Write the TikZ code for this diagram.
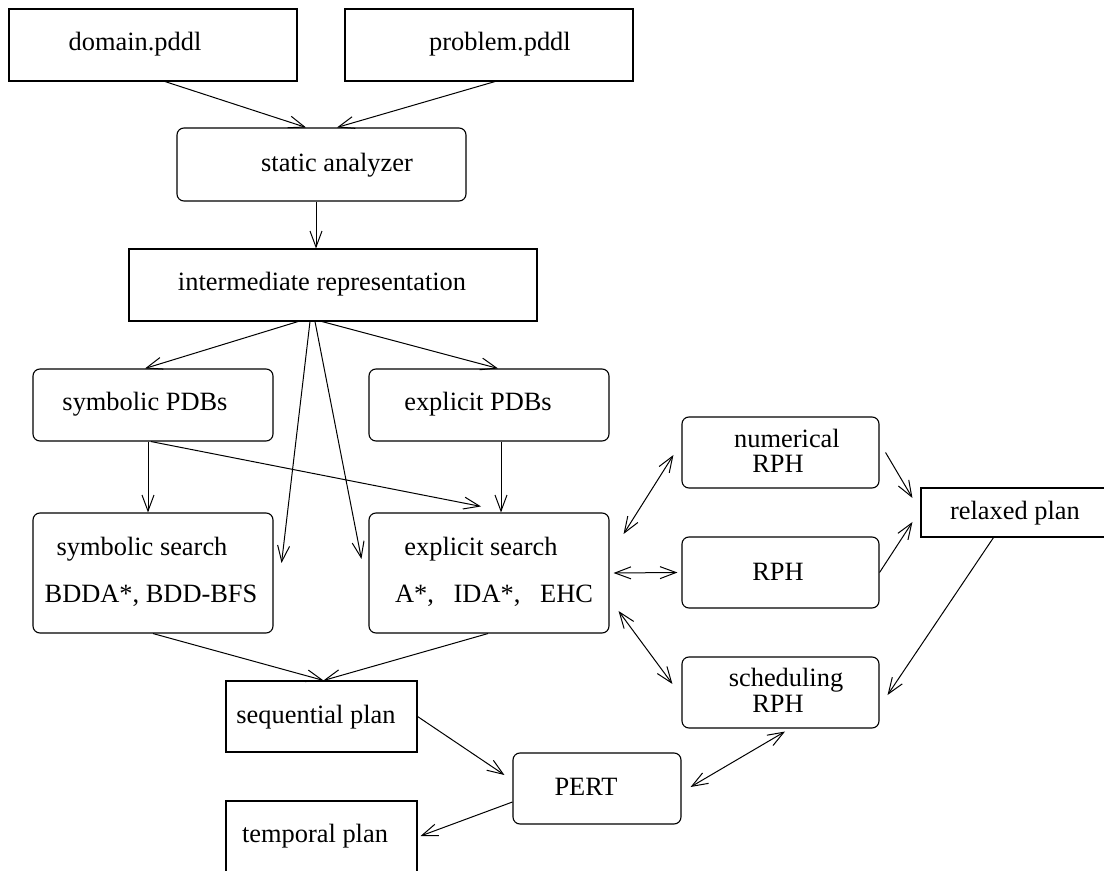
\documentclass[tikz,border=0pt]{standalone}
\usepackage{fontspec}
\setmainfont{Liberation Serif}
\usetikzlibrary{arrows.meta}

\begin{document}
\begin{tikzpicture}[x=0.5pt, y=-0.5pt,
    font=\fontsize{13.2}{15}\selectfont,
    line width=0.5pt,
    box/.style={draw, line width=0.55pt, inner sep=0pt},
    rbox/.style={box, rounded corners=3.5pt},
    lbl/.style={inner sep=0pt},
    tip/.style={-{Straight Barb[length=8pt,width=6pt]}},
    tips/.style={{Straight Barb[length=8pt,width=6pt]}-{Straight Barb[length=8pt,width=6pt]}}]
    \useasboundingbox (0,0) rectangle (1104,871);

    % boxes
    \node[box, minimum width=144pt, minimum height=36pt] (dom) at (153,45) {};
    \node[box, minimum width=144pt, minimum height=36pt] (prob) at (489,45) {};
    \node[rbox, minimum width=144.5pt, minimum height=36.5pt] (stat) at (321.5,164.5) {};
    \node[box, minimum width=204pt, minimum height=36pt] (inter) at (333,285) {};
    \node[rbox, minimum width=120pt, minimum height=36pt] (sympdb) at (153,405) {};
    \node[rbox, minimum width=120pt, minimum height=36pt] (exppdb) at (489,405) {};
    \node[rbox, minimum width=120pt, minimum height=60pt] (symsrch) at (153,573) {};
    \node[rbox, minimum width=120pt, minimum height=60pt] (expsrch) at (489,573) {};
    \node[rbox, minimum width=98.5pt, minimum height=35.5pt] (numrph) at (780.5,452.5) {};
    \node[rbox, minimum width=98.5pt, minimum height=35.5pt] (rph) at (780.5,572.5) {};
    \node[rbox, minimum width=98.5pt, minimum height=35.5pt] (schedrph) at (780.5,692.5) {};
    \node[box, minimum width=94pt, minimum height=24.5pt] (relax) at (1015,512.5) {};
    \node[box, minimum width=95.5pt, minimum height=35.5pt] (seq) at (321.5,716.5) {};
    \node[box, minimum width=95.5pt, minimum height=36pt] (temp) at (321.5,837) {};
    \node[rbox, minimum width=84pt, minimum height=35.5pt] (pert) at (597,788.5) {};

    % labels
    \node[lbl] (doml) at (135,44) {domain.pddl};
    \node[lbl] (probl) at (500,44) {problem.pddl};
    \node[lbl] (statl) at (337,165) {static analyzer};
    \node[lbl] (interl) at (322,284) {intermediate representation};
    \node[lbl] (sympdbl) at (145,404) {symbolic PDBs};
    \node[lbl] (exppdbl) at (478,404) {explicit PDBs};
    \node[lbl] (symsrchl) at (142,549) {symbolic search};
    \node[lbl] (symalgl) at (151,596) {BDDA*, BDD-BFS};
    \node[lbl] (expsrchl) at (481,549) {explicit search};
    \node[lbl] (expalgl) at (494,596) {A*,\ \ \ IDA*,\ \ \ EHC};
    \node[lbl] (numl) at (787,438) {numerical};
    \node[lbl] (numrphl) at (778,464) {RPH};
    \node[lbl] (rphl) at (778,572) {RPH};
    \node[lbl] (schedl) at (786,680) {scheduling};
    \node[lbl] (schedrphl) at (778,704) {RPH};
    \node[lbl] (relaxl) at (1015,513) {relaxed plan};
    \node[lbl] (seql) at (316,717) {sequential plan};
    \node[lbl] (templ) at (315,836) {temporal plan};
    \node[lbl] (pertl) at (586,787) {PERT};

    % arrows
    \draw[tip] ([xshift=6pt]dom.south) -- ([xshift=-7.75pt]stat.north);
    \draw[tip] ([xshift=3pt]prob.south) -- ([xshift=7.75pt]stat.north);
    \draw[tip] ([xshift=-2.75pt]stat.south) -- ([xshift=-8.5pt]inter.north);
    \draw[tip] ([xshift=-17.5pt]inter.south) -- ([xshift=-4pt]sympdb.north);
    \draw[tip] ([xshift=-5.5pt]inter.south) -- ([xshift=4.5pt]exppdb.north);
    \draw[tip] ([xshift=-11.5pt]inter.south) -- ([shift={(4pt,5pt)}]symsrch.east);
    \draw[tip] ([xshift=-9pt]inter.south) -- ([shift={(-3.5pt,7pt)}]expsrch.west);
    \draw[tip] ([xshift=-2.5pt]sympdb.south) -- ([xshift=-2.5pt]symsrch.north);
    \draw[tip] ([xshift=-1pt]sympdb.south) -- ([shift={(-4pt,3pt)}]expsrch.north);
    \draw[tip] ([xshift=6pt]exppdb.south) -- ([xshift=6pt]expsrch.north);

    \draw[tips] ([shift={(7pt,19.5pt)}]expsrch.east) -- ([shift={(-4pt,-1.25pt)}]numrph.west);
    \draw[tips] ([xshift=2pt]expsrch.east) -- ([xshift=-2pt]rph.west);
    \draw[tips] ([shift={(4.5pt,-19pt)}]expsrch.east) -- ([shift={(-4.5pt,4.25pt)}]schedrph.west);

    \draw[tip] ([xshift=3pt]numrph.east) -- ([shift={(-4pt,7.25pt)}]relax.west);
    \draw[tip] (rph.east) -- ([shift={(-4pt,-4.75pt)}]relax.west);
    \draw[tip] ([xshift=-10.75pt]relax.south) -- ([shift={(4pt,-1.25pt)}]schedrph.east);

    \draw[tip] (symsrch.south) -- ([xshift=1pt]seq.north);
    \draw[tip] ([xshift=-0.5pt]expsrch.south) -- ([xshift=1pt]seq.north);
    \draw[tip] (seq.east) -- ([shift={(-4pt,6.75pt)}]pert.west);
    \draw[tip] ([yshift=-6.75pt]pert.west) -- ([shift={(1.5pt,0.5pt)}]temp.east);
    \draw[tips] ([shift={(2.25pt,-1.5pt)}]schedrph.south) -- ([shift={(4.5pt,0.75pt)}]pert.east);
\end{tikzpicture}
\end{document}
